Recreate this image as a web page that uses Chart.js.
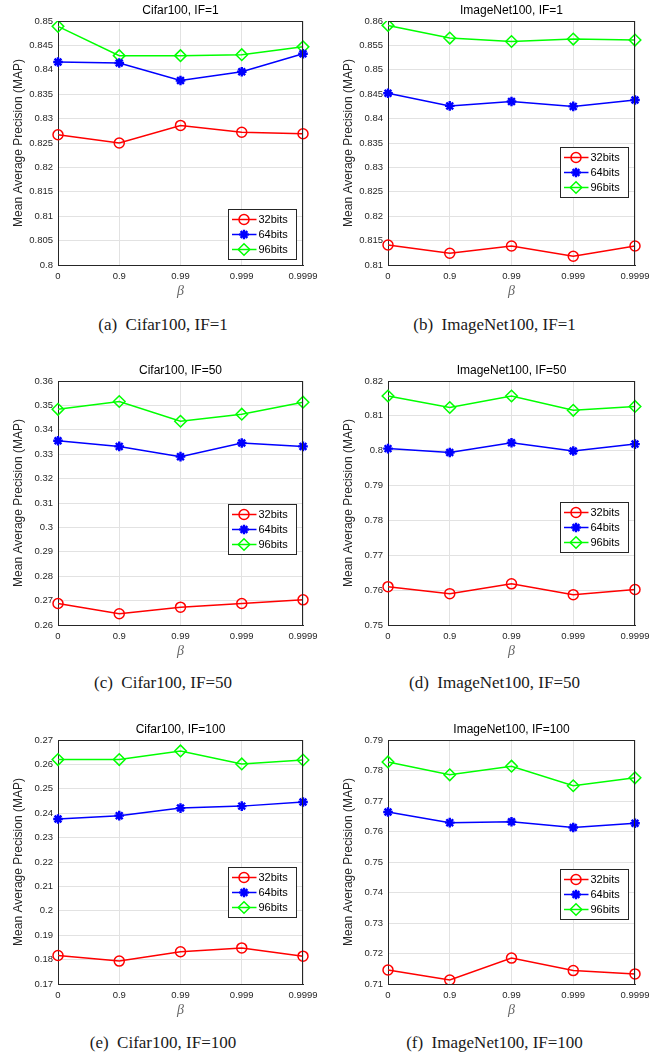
<!DOCTYPE html>
<html>
<head>
<meta charset="utf-8">
<script src="https://cdn.jsdelivr.net/npm/chart.js@4/dist/chart.umd.min.js"></script>
<style>
  body { margin: 0; background: #fff; }
  #page { position: relative; width: 667px; height: 1057px; background: #fff; }
  .panel { position: absolute; height: 300px; }
  .panel canvas { display: block; }
  .caption {
    position: absolute; width: 300px; height: 20px; line-height: 20px;
    text-align: center; font-family: "Liberation Serif", "DejaVu Serif", serif;
    font-size: 17px; color: #1a1a1a; white-space: pre;
  }
</style>
</head>
<body>
<div id="page"></div>
<script>
// x axis categories (beta)
const betaLabels = ["0", "0.9", "0.99", "0.999", "0.9999"];
const seriesNames = ["32bits", "64bits", "96bits"];

const panelTitles = ["Cifar100, IF=1", "ImageNet100, IF=1", "Cifar100, IF=50",
  "ImageNet100, IF=50", "Cifar100, IF=100", "ImageNet100, IF=100"];
const panelCaptions = ["(a)  Cifar100, IF=1", "(b)  ImageNet100, IF=1", "(c)  Cifar100, IF=50",
  "(d)  ImageNet100, IF=50", "(e)  Cifar100, IF=100", "(f)  ImageNet100, IF=100"];

// MAP values
const cifarIF1_32 = [0.8267, 0.8250, 0.8286, 0.8272, 0.8269];
const cifarIF1_64 = [0.8416, 0.8414, 0.8378, 0.8396, 0.8433];
const cifarIF1_96 = [0.8489, 0.8429, 0.8429, 0.8431, 0.8447];

const imagenetIF1_32 = [0.8141, 0.8124, 0.8139, 0.8118, 0.8139];
const imagenetIF1_64 = [0.8452, 0.8426, 0.8435, 0.8425, 0.8438];
const imagenetIF1_96 = [0.8591, 0.8565, 0.8558, 0.8563, 0.8561];

const cifarIF50_32 = [0.2688, 0.2646, 0.2673, 0.2688, 0.2703];
const cifarIF50_64 = [0.3355, 0.3332, 0.3290, 0.3346, 0.3332];
const cifarIF50_96 = [0.3484, 0.3516, 0.3435, 0.3464, 0.3513];

const imagenetIF50_32 = [0.7610, 0.7590, 0.7618, 0.7587, 0.7602];
const imagenetIF50_64 = [0.8006, 0.7995, 0.8023, 0.7999, 0.8019];
const imagenetIF50_96 = [0.8157, 0.8124, 0.8157, 0.8116, 0.8127];

const cifarIF100_32 = [0.1817, 0.1794, 0.1832, 0.1848, 0.1814];
const cifarIF100_64 = [0.2376, 0.2390, 0.2421, 0.2429, 0.2446];
const cifarIF100_96 = [0.2620, 0.2620, 0.2655, 0.2602, 0.2618];

const imagenetIF100_32 = [0.7146, 0.7113, 0.7185, 0.7144, 0.7133];
const imagenetIF100_64 = [0.7664, 0.7629, 0.7632, 0.7613, 0.7627];
const imagenetIF100_96 = [0.7828, 0.7786, 0.7814, 0.7750, 0.7776];

// y axis ranges per panel
const yMin = [0.80, 0.81, 0.26, 0.75, 0.17, 0.71];
const yMax = [0.85, 0.86, 0.36, 0.82, 0.27, 0.79];
const yStep = [0.005, 0.005, 0.01, 0.01, 0.01, 0.01];

const panelData = [
  [cifarIF1_32, cifarIF1_64, cifarIF1_96],
  [imagenetIF1_32, imagenetIF1_64, imagenetIF1_96],
  [cifarIF50_32, cifarIF50_64, cifarIF50_96],
  [imagenetIF50_32, imagenetIF50_64, imagenetIF50_96],
  [cifarIF100_32, cifarIF100_64, cifarIF100_96],
  [imagenetIF100_32, imagenetIF100_64, imagenetIF100_96]
];

// series styles (MATLAB-like)
const seriesColors = ["#ff0000", "#0000ff", "#00ff00"];
const seriesMarkers = ["circle", "star", "rectRot"];
const markerRadius = [5, 4.8, 5.8];
const markerWidth = [1.5, 2.4, 1.5];

// layout
const rowTops = [0, 360, 719];
const captionY = [324.5, 683, 1043];
const legendTop = [188, 126, 123, 121, 127, 129];

const axisDark = "#262626";
const sansFont = "'Liberation Sans', Arial, sans-serif";

// title over plot area, frame around plot area, legend box inside axes
const boxLegendPlugin = {
  id: "boxLegend",
  afterDraw(chart, args, opts) {
    const ctx = chart.ctx;
    const a = chart.chartArea;
    ctx.save();
    ctx.fillStyle = "#000";
    ctx.font = "12px " + sansFont;
    ctx.textAlign = "center";
    ctx.textBaseline = "middle";
    ctx.fillText(opts.title, (a.left + a.right) / 2, a.top - 10);

    ctx.strokeStyle = axisDark;
    ctx.lineWidth = 1;
    ctx.beginPath();
    ctx.moveTo(a.left, a.top + 0.5);
    ctx.lineTo(a.right, a.top + 0.5);
    ctx.moveTo(a.right - 0.5, a.top);
    ctx.lineTo(a.right - 0.5, a.bottom);
    ctx.stroke();

    // legend
    const w = 68, h = 50;
    const x = Math.round(a.right - 7.5 - w) + 0.5;
    const y = Math.round(a.top + opts.top) + 0.5;
    ctx.fillStyle = "#fff";
    ctx.fillRect(x, y, w, h);
    ctx.strokeRect(x, y, w, h);
    ctx.font = "11px " + sansFont;
    ctx.textAlign = "left";
    chart.data.datasets.forEach((ds, i) => {
      const cy = y + 10 + i * 15;
      ctx.strokeStyle = ds.borderColor;
      ctx.lineWidth = ds.borderWidth;
      ctx.beginPath();
      ctx.moveTo(x + 3.5, cy);
      ctx.lineTo(x + 28, cy);
      ctx.stroke();
      ctx.fillStyle = "rgba(0,0,0,0)";
      ctx.lineWidth = ds.pointBorderWidth;
      Chart.helpers.drawPoint(ctx, {
        pointStyle: ds.pointStyle, rotation: 0,
        radius: ds.pointRadius, borderWidth: ds.pointBorderWidth
      }, x + 15.5, cy);
      ctx.fillStyle = "#000";
      ctx.fillText(ds.label, x + 30, cy + 0.5);
    });
    ctx.restore();
  }
};

function makePanel(i) {
  const col = i % 2;
  const row = Math.floor(i / 2);
  const page = document.getElementById("page");
  const width = col === 0 ? 333 : 334;

  const div = document.createElement("div");
  div.className = "panel";
  div.style.left = (col === 0 ? 0 : 333) + "px";
  div.style.top = rowTops[row] + "px";
  div.style.width = width + "px";
  const canvas = document.createElement("canvas");
  canvas.width = width;
  canvas.height = 300;
  canvas.style.width = width + "px";
  canvas.style.height = "300px";
  div.appendChild(canvas);
  page.appendChild(div);

  const cap = document.createElement("div");
  cap.className = "caption";
  cap.textContent = panelCaptions[i];
  cap.style.left = ((col === 0 ? 163 : 494.5) - 150) + "px";
  cap.style.top = (captionY[row] - 10) + "px";
  page.appendChild(cap);

  const yAxisWidth = col === 0 ? 58 : 55;

  new Chart(canvas, {
    type: "line",
    data: {
      labels: betaLabels,
      datasets: seriesNames.map((name, k) => ({
        label: name,
        data: panelData[i][k],
        borderColor: seriesColors[k],
        backgroundColor: "rgba(0,0,0,0)",
        borderWidth: 1.5,
        tension: 0,
        pointStyle: seriesMarkers[k],
        pointRadius: markerRadius[k],
        pointBorderWidth: markerWidth[k],
        pointBorderColor: seriesColors[k],
        pointBackgroundColor: "rgba(0,0,0,0)"
      }))
    },
    options: {
      responsive: false,
      devicePixelRatio: 1,
      animation: false,
      events: [],
      layout: { padding: { left: 0, right: col === 0 ? 30 : 32, top: 21, bottom: 0 } },
      plugins: {
        legend: { display: false },
        tooltip: { enabled: false },
        title: { display: false },
        boxLegend: { top: legendTop[i], title: panelTitles[i] }
      },
      scales: {
        x: {
          type: "category",
          offset: false,
          grid: { color: "#e2e2e2", drawTicks: false, offset: false },
          border: { color: axisDark, width: 1 },
          ticks: {
            color: axisDark, padding: 6, maxRotation: 0, autoSkip: false,
            font: { family: sansFont, size: 9.5 }
          },
          title: {
            display: true, text: "β", color: "#666",
            font: { family: "'Liberation Serif', 'DejaVu Serif', serif", size: 14, style: "italic" },
            padding: { top: 0, bottom: 0 }
          },
          afterFit(scale) { scale.height = 35; }
        },
        y: {
          min: yMin[i],
          max: yMax[i],
          grid: { color: "#e2e2e2", drawTicks: false },
          border: { color: axisDark, width: 1 },
          ticks: {
            stepSize: yStep[i], color: axisDark, padding: 5, autoSkip: false,
            font: { family: sansFont, size: 9.5 },
            callback: v => String(parseFloat(v.toFixed(4)))
          },
          title: {
            display: true, text: "Mean Average Precision (MAP)", color: axisDark,
            font: { family: sansFont, size: 12 },
            padding: { top: col === 0 ? 11 : 8, bottom: 0 }
          },
          afterFit(scale) { scale.width = yAxisWidth; }
        }
      }
    },
    plugins: [boxLegendPlugin]
  });
}

for (let i = 0; i < 6; i++) {
  makePanel(i);
}
</script>
</body>
</html>
